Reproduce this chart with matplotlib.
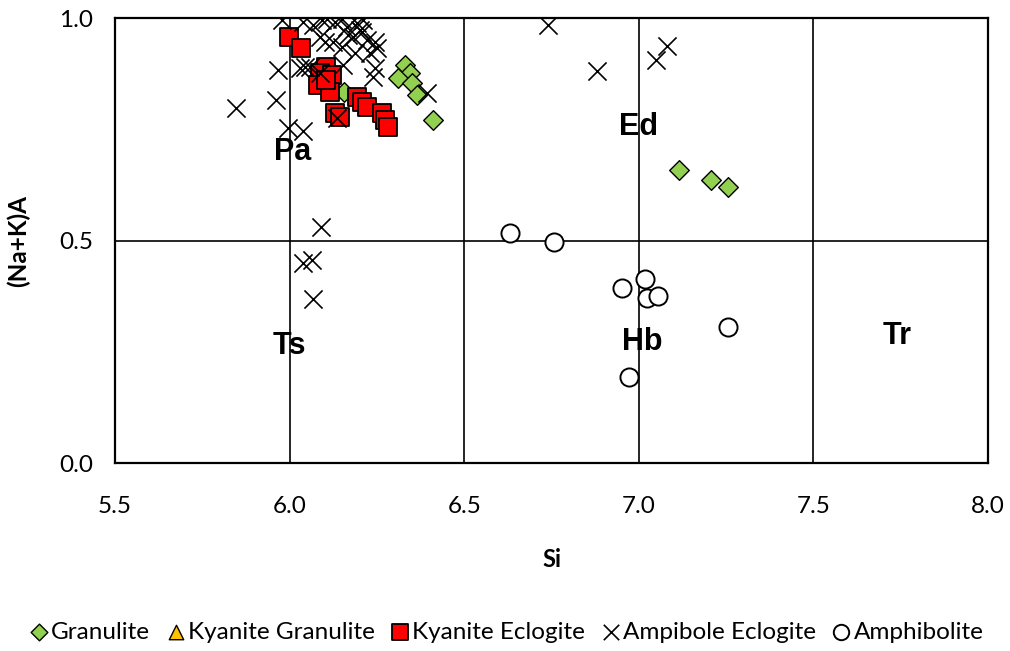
import matplotlib
matplotlib.use("Agg")
import matplotlib.pyplot as plt

# Classification fields (Si vs (Na+K)A)
field_labels = ["Pa", "Ed", "Ts", "Hb", "Tr"]
field_x = [6.01, 7.00, 6.00, 7.01, 7.74]
field_y = [0.700, 0.755, 0.262, 0.272, 0.285]

granulite_si = [6.156, 6.330, 6.344, 6.310, 6.350, 6.365, 6.411, 7.116, 7.207, 7.256]
granulite_nak = [0.834, 0.894, 0.876, 0.865, 0.854, 0.826, 0.771, 0.658, 0.636, 0.620]

ky_granulite_si = []
ky_granulite_nak = []

ky_eclogite_si = [5.999, 6.033, 6.105, 6.087, 6.122, 6.082, 6.116, 6.105,
                  6.130, 6.145, 6.193, 6.208, 6.222, 6.265, 6.272, 6.282]
ky_eclogite_nak = [0.957, 0.933, 0.890, 0.876, 0.872, 0.849, 0.834, 0.861,
                   0.787, 0.778, 0.822, 0.811, 0.800, 0.787, 0.771, 0.755]

amph_eclogite_si = [5.847, 5.961, 5.967, 5.996, 6.039, 6.090, 6.039, 6.064, 6.067,
                    6.741, 6.881, 7.050, 7.082,
                    5.979, 6.039, 6.067, 6.093, 6.107, 6.130, 6.150, 6.165, 6.193,
                    6.211, 6.087, 6.102, 6.168, 6.182, 6.208, 6.222, 6.245, 6.251,
                    6.231, 6.188, 6.150, 6.125, 6.239, 6.245, 6.044, 6.153, 6.394,
                    6.136, 6.087, 6.030, 6.059, 6.202]
amph_eclogite_nak = [0.798, 0.816, 0.883, 0.753, 0.746, 0.530, 0.449, 0.456, 0.369,
                     0.984, 0.881, 0.906, 0.937,
                     0.995, 0.991, 0.984, 0.996, 0.998, 0.991, 0.998, 0.980, 0.989,
                     0.996, 0.957, 0.946, 0.962, 0.957, 0.969, 0.951, 0.946, 0.933,
                     0.921, 0.921, 0.935, 0.946, 0.867, 0.888, 0.890, 0.894, 0.831,
                     0.775, 0.876, 0.888, 0.890, 0.973]

amphibolite_si = [6.632, 6.758, 6.953, 7.019, 7.024, 7.056, 7.256, 6.973]
amphibolite_nak = [0.517, 0.497, 0.393, 0.413, 0.371, 0.375, 0.306, 0.193]

x_ticks = [5.5, 6.0, 6.5, 7.0, 7.5, 8.0]
y_ticks = [0.0, 0.5, 1.0]
div_x = [6.0, 6.5, 7.0, 7.5]
div_y = [0.5]

plt.rcParams['font.family'] = ['Lato', 'DejaVu Sans']

fig = plt.figure(figsize=(10.10, 6.51), dpi=100)
ax = fig.add_axes([115 / 1010, (651 - 463) / 651, 873 / 1010, 445 / 651])

for xv in div_x:
    ax.axvline(xv, color='black', lw=1.2, zorder=1)
for yv in div_y:
    ax.axhline(yv, color='black', lw=1.2, zorder=1)

ax.scatter(granulite_si, granulite_nak, marker='D', s=100, facecolor='#92D050',
           edgecolor='black', linewidth=1.0, zorder=3, label='Granulite')
ax.scatter(ky_granulite_si, ky_granulite_nak, marker='^', s=150, facecolor='#FFC000',
           edgecolor='black', linewidth=1.0, zorder=3, label='Kyanite Granulite')
ax.scatter(ky_eclogite_si, ky_eclogite_nak, marker='s', s=185, facecolor='#FF0000',
           edgecolor='black', linewidth=1.3, zorder=3, label='Kyanite Eclogite')
ax.scatter(amph_eclogite_si, amph_eclogite_nak, marker='x', s=170, color='black',
           linewidth=1.2, zorder=4, label='Ampibole Eclogite')
ax.scatter(amphibolite_si, amphibolite_nak, marker='o', s=170, facecolor='white',
           edgecolor='black', linewidth=1.4, zorder=3, label='Amphibolite')

for lab, fx, fy in zip(field_labels, field_x, field_y):
    ax.text(fx, fy, lab, ha='center', va='center', fontsize=22, fontweight='bold',
            family=['Liberation Sans'], zorder=5)

ax.set_xlim(5.5, 8.0)
ax.set_ylim(0.0, 1.0)
ax.set_xticks(x_ticks)
ax.set_xticklabels([f"{v:.1f}" for v in x_ticks])
ax.set_yticks(y_ticks)
ax.set_yticklabels([f"{v:.1f}" for v in y_ticks])
ax.tick_params(axis='both', length=0, labelsize=17.5)
ax.tick_params(axis='x', pad=24)
ax.tick_params(axis='y', pad=16)
for sp in ax.spines.values():
    sp.set_linewidth(1.6)
    sp.set_color('black')

ax.set_xlabel('Si', fontsize=17, fontweight='bold')
ax.set_ylabel('(Na+K)A', fontsize=17.5, fontweight='bold')
ax.xaxis.set_label_coords(0.5, -0.191)
ax.yaxis.set_label_coords(-0.097, 0.5)

leg = fig.legend(loc='center', bbox_to_anchor=(0.5, (651 - 632) / 651), ncol=5,
                 frameon=False, fontsize=17.5, handletextpad=0.0, columnspacing=0.55,
                 handlelength=1.0, markerscale=0.85, borderaxespad=0)

fig.savefig('out.png', dpi=100)
